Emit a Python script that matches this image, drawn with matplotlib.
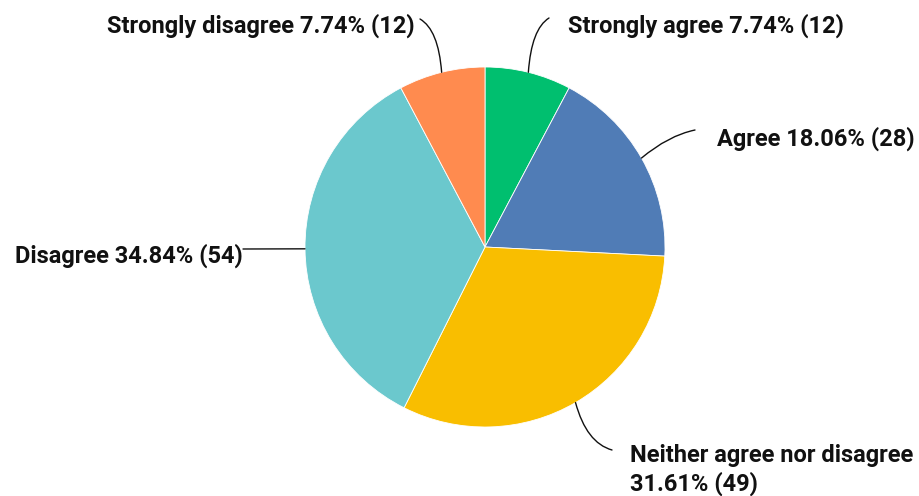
import matplotlib
matplotlib.use("Agg")
import matplotlib.pyplot as plt
import numpy as np
from matplotlib.path import Path
from matplotlib.patches import PathPatch

# Survey responses
categories = ["Strongly agree", "Agree", "Neither agree nor disagree",
              "Disagree", "Strongly disagree"]
counts = [12, 28, 49, 54, 12]
percents = [7.74, 18.06, 31.61, 34.84, 7.74]
colors = ["#00BF6F", "#507CB6", "#F9BE00", "#6BC8CD", "#FF8B4F"]

W, H = 920, 496
fig = plt.figure(figsize=(W / 100, H / 100), dpi=100)
ax = fig.add_axes([0, 0, 1, 1])

cx, cy, r = 485, H - 247, 180
wedges, _ = ax.pie(counts, colors=colors, startangle=90, counterclock=False,
                   center=(cx, cy), radius=r,
                   wedgeprops=dict(edgecolor="white", linewidth=0.6))
ax.set_xlim(0, W)
ax.set_ylim(0, H)
ax.set_aspect("equal")
ax.axis("off")

font = dict(family="Roboto", fontweight="bold", fontsize=17, color="#111111")

# label layout: leader-line end (px, from top), control-point fractions,
# text anchor x and baselines (px, from top)
layout = [
    dict(end=(549, 18), ctrl=(0.15, 0.8), x=568, base=[33], ha="left"),
    dict(end=(695, 130), ctrl=(0.5, 0.8), x=717, base=[146], ha="left"),
    dict(end=(612, 450), ctrl=(0.3, 0.85), x=630, base=[462, 491], ha="left"),
    dict(end=(243, 249), ctrl=(0.5, 0.5), x=243, base=[263], ha="right"),
    dict(end=(420, 19), ctrl=(0.15, 0.8), x=415, base=[33], ha="right"),
]

for w, cat, n, p, lay in zip(wedges, categories, counts, percents, layout):
    mid = np.deg2rad((w.theta1 + w.theta2) / 2)
    x0, y0 = cx + r * np.cos(mid), cy + r * np.sin(mid)
    x1, y1 = lay["end"][0], H - lay["end"][1]
    a, b = lay["ctrl"]
    c = (x0 + a * (x1 - x0), y0 + b * (y1 - y0))
    path = Path([(x0, y0), c, (x1, y1)], [Path.MOVETO, Path.CURVE3, Path.CURVE3])
    ax.add_patch(PathPatch(path, fill=False, edgecolor="#111111", linewidth=1.0,
                           capstyle="round"))
    value = f"{p:.2f}% ({n})"
    lines = [cat, value] if len(lay["base"]) == 2 else [f"{cat} {value}"]
    for line, base in zip(lines, lay["base"]):
        ax.text(lay["x"], H - base, line, ha=lay["ha"], va="baseline", **font)

fig.savefig("out.png", dpi=100)
